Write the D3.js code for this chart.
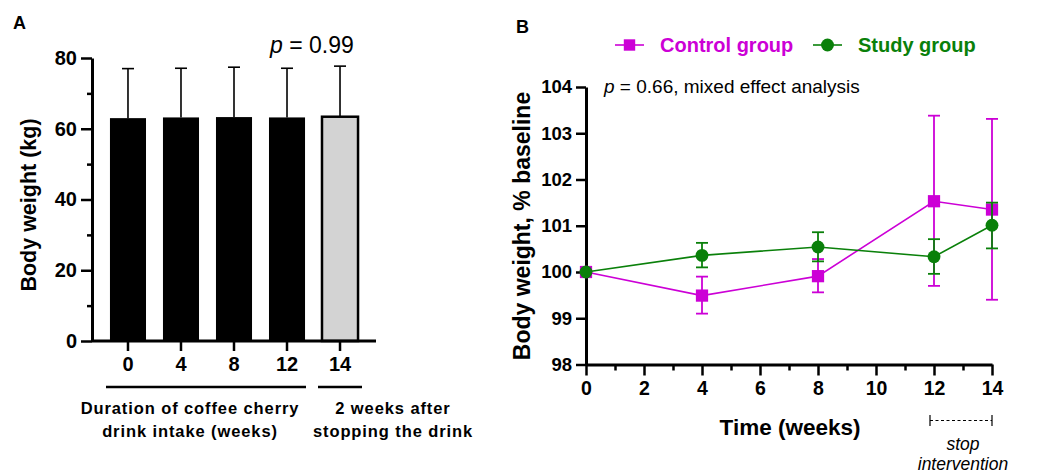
<!DOCTYPE html>
<html>
<head>
<meta charset="utf-8">
<script src="https://cdn.jsdelivr.net/npm/d3@7"></script>
<style>
  body { margin: 0; background: #fff; }
  svg, svg text { font-family: Arial, "Liberation Sans", sans-serif; }
  .tick text { font-weight: bold; }
</style>
</head>
<body>
<svg width="1037" height="475"></svg>
<script>
// panel A data
var weeksA = ["0", "4", "8", "12", "14"];
var meanA  = [63.0, 63.2, 63.3, 63.2, 63.4];
var upperA = [77.0, 77.1, 77.4, 77.1, 77.7];

// panel B data
var weeksB    = [0, 4, 8, 12, 14];
var ctrlMean  = [100, 99.49, 99.91, 101.53, 101.35];
var ctrlLow   = [100, 99.1, 99.56, 99.7, 99.4];
var ctrlHigh  = [100, 99.9, 100.28, 103.38, 103.31];
var studyMean = [100, 100.36, 100.54, 100.33, 101.01];
var studyLow  = [100, 100.1, 100.23, 99.96, 100.51];
var studyHigh = [100, 100.63, 100.86, 100.71, 101.5];

var MAG = "#cc00d6", GRN = "#0a800a";

var svg = d3.select("svg");

// ---------- Panel A ----------
var gA = svg.append("g");

var xA = d3.scaleBand().domain(weeksA).range([93, 375]).padding(0.32);
var yA = d3.scaleLinear().domain([0, 80]).range([341, 58]);

gA.append("text").attr("x", 13).attr("y", 29)
  .attr("font-size", 18).attr("font-weight", "bold").text("A");

// y axis: major ticks every 20, minor every 10
gA.append("g").attr("transform", "translate(92,0)")
  .call(d3.axisLeft(yA).tickValues(d3.range(10, 80, 20)).tickSize(5).tickFormat(""))
  .call(function (g) { g.select(".domain").remove(); })
  .selectAll("line").attr("stroke-width", 2.5);
gA.append("g").attr("transform", "translate(92,0)")
  .call(d3.axisLeft(yA).tickValues(d3.range(0, 81, 20)).tickSize(11).tickSizeOuter(0).tickPadding(4))
  .call(function (g) {
    g.select(".domain").attr("stroke-width", 3);
    g.selectAll("line").attr("stroke-width", 2.5);
    g.selectAll("text").attr("font-size", 20).attr("fill", "#000");
  });

gA.append("text")
  .attr("transform", "translate(36,205) rotate(-90)")
  .attr("text-anchor", "middle")
  .attr("font-size", 21.5).attr("font-weight", "bold")
  .text("Body weight (kg)");

// bars
gA.selectAll(".err").data(weeksA).enter().append("g").each(function (d, i) {
  var cx = xA(d) + xA.bandwidth() / 2;
  var g = d3.select(this);
  g.append("line").attr("x1", cx).attr("x2", cx)
    .attr("y1", yA(meanA[i])).attr("y2", yA(upperA[i]))
    .attr("stroke", "#000").attr("stroke-width", 1.6);
  g.append("line").attr("x1", cx - 6).attr("x2", cx + 6)
    .attr("y1", yA(upperA[i])).attr("y2", yA(upperA[i]))
    .attr("stroke", "#000").attr("stroke-width", 1.6);
});
gA.selectAll(".bar").data(weeksA).enter().append("rect")
  .attr("x", function (d) { return xA(d); })
  .attr("y", function (d, i) { return yA(meanA[i]); })
  .attr("width", xA.bandwidth())
  .attr("height", function (d, i) { return yA(0) - yA(meanA[i]); })
  .attr("fill", function (d, i) { return i === 4 ? "#d3d3d3" : "#000"; })
  .attr("stroke", "#000")
  .attr("stroke-width", function (d, i) { return i === 4 ? 2.5 : 0; });

// x axis
gA.append("g").attr("transform", "translate(0,341)")
  .call(d3.axisBottom(xA).tickSize(10).tickSizeOuter(0).tickPadding(6))
  .call(function (g) {
    g.select(".domain").attr("d", "M92,0H376").attr("stroke-width", 3);
    g.selectAll("line").attr("stroke-width", 2.5);
    g.selectAll("text").attr("font-size", 20).attr("fill", "#000");
  });

// group brackets
gA.append("line").attr("x1", 106).attr("x2", 306).attr("y1", 387).attr("y2", 387)
  .attr("stroke", "#000").attr("stroke-width", 2.5);
gA.append("line").attr("x1", 318).attr("x2", 362).attr("y1", 387).attr("y2", 387)
  .attr("stroke", "#000").attr("stroke-width", 2.5);
[["Duration of coffee cherry", 190, 414], ["drink intake (weeks)", 190, 437],
 ["2 weeks after", 393, 414], ["stopping the drink", 393, 437]].forEach(function (t) {
  gA.append("text").attr("x", t[1]).attr("y", t[2]).attr("text-anchor", "middle")
    .attr("font-size", 16.5).attr("letter-spacing", 0.9).attr("font-weight", "bold").text(t[0]);
});

var pA = gA.append("text").attr("x", 270).attr("y", 53).attr("font-size", 23);
pA.append("tspan").attr("font-style", "italic").text("p");
pA.append("tspan").text(" = 0.99");

// ---------- Panel B ----------
var gB = svg.append("g");
var xB = d3.scaleLinear().domain([0, 14]).range([586, 992]);
var yB = d3.scaleLinear().domain([98, 104]).range([364.5, 87]);

gB.append("text").attr("x", 516).attr("y", 33)
  .attr("font-size", 18).attr("font-weight", "bold").text("B");

gB.append("g").attr("transform", "translate(586,0)")
  .call(d3.axisLeft(yB).tickValues(d3.range(98, 105)).tickFormat(d3.format("d"))
    .tickSize(10).tickSizeOuter(0).tickPadding(4))
  .call(function (g) {
    g.select(".domain").attr("stroke-width", 3);
    g.selectAll("line").attr("stroke-width", 2.5);
    g.selectAll("text").attr("font-size", 18.5).attr("fill", "#000");
  });

gB.append("g").attr("transform", "translate(0,364.5)")
  .call(d3.axisBottom(xB).tickValues(d3.range(1, 14, 2)).tickSize(6).tickFormat(""))
  .call(function (g) { g.select(".domain").remove(); })
  .selectAll("line").attr("stroke-width", 2.5);
gB.append("g").attr("transform", "translate(0,364.5)")
  .call(d3.axisBottom(xB).tickValues(d3.range(0, 15, 2)).tickSize(11).tickSizeOuter(0).tickPadding(6))
  .call(function (g) {
    g.select(".domain").attr("stroke-width", 3);
    g.selectAll("line").attr("stroke-width", 2.5);
    g.selectAll("text").attr("font-size", 19.5).attr("fill", "#000");
  });

gB.append("text")
  .attr("transform", "translate(530,226) rotate(-90)")
  .attr("text-anchor", "middle")
  .attr("font-size", 23).attr("font-weight", "bold")
  .text("Body weight, % baseline");

gB.append("text").attr("x", 790).attr("y", 435).attr("text-anchor", "middle")
  .attr("font-size", 22.5).attr("font-weight", "bold").text("Time (weeks)");

var pB = gB.append("text").attr("x", 604).attr("y", 93).attr("font-size", 19);
pB.append("tspan").attr("font-style", "italic").text("p");
pB.append("tspan").text(" = 0.66, mixed effect analysis");

// stop intervention bracket
gB.append("line").attr("x1", xB(12) - 4).attr("x2", xB(14)).attr("y1", 420.5).attr("y2", 420.5)
  .attr("stroke", "#000").attr("stroke-width", 1.2).attr("stroke-dasharray", "3,2.5");
[xB(12) - 4, xB(14)].forEach(function (x) {
  gB.append("line").attr("x1", x).attr("x2", x).attr("y1", 415).attr("y2", 426)
    .attr("stroke", "#000").attr("stroke-width", 1.2);
});
gB.append("text").attr("x", 963).attr("y", 450).attr("text-anchor", "middle")
  .attr("font-size", 17.5).attr("font-style", "italic").text("stop");
gB.append("text").attr("x", 963).attr("y", 470).attr("text-anchor", "middle")
  .attr("font-size", 17.5).attr("font-style", "italic").text("intervention");

function drawSeries(mean, low, high, color, shape) {
  var g = gB.append("g");
  var line = d3.line().x(function (d, i) { return xB(weeksB[i]); }).y(function (d) { return yB(d); });
  weeksB.forEach(function (w, i) {
    if (high[i] === low[i]) return;
    var cx = xB(w);
    g.append("line").attr("x1", cx).attr("x2", cx).attr("y1", yB(low[i])).attr("y2", yB(high[i]))
      .attr("stroke", color).attr("stroke-width", 1.8);
    [low[i], high[i]].forEach(function (v) {
      g.append("line").attr("x1", cx - 6).attr("x2", cx + 6).attr("y1", yB(v)).attr("y2", yB(v))
        .attr("stroke", color).attr("stroke-width", 1.8);
    });
  });
  g.append("path").datum(mean).attr("d", line)
    .attr("fill", "none").attr("stroke", color).attr("stroke-width", 1.6);
  g.selectAll(".m").data(mean).enter().append("path")
    .attr("transform", function (d, i) { return "translate(" + xB(weeksB[i]) + "," + yB(d) + ")"; })
    .attr("d", d3.symbol().type(shape).size(shape === d3.symbolSquare ? 150 : 130))
    .attr("fill", color);
}
drawSeries(ctrlMean, ctrlLow, ctrlHigh, MAG, d3.symbolSquare);
drawSeries(studyMean, studyLow, studyHigh, GRN, d3.symbolCircle);

// legend
var legend = [["Control group", MAG, d3.symbolSquare, 615, 660], ["Study group", GRN, d3.symbolCircle, 813, 858]];
legend.forEach(function (l) {
  gB.append("line").attr("x1", l[3]).attr("x2", l[3] + 29).attr("y1", 45).attr("y2", 45)
    .attr("stroke", l[1]).attr("stroke-width", 1.6);
  gB.append("path").attr("transform", "translate(" + (l[3] + 14.5) + ",45)")
    .attr("d", d3.symbol().type(l[2]).size(130)).attr("fill", l[1]);
  gB.append("text").attr("x", l[4]).attr("y", 52).attr("font-size", 20).attr("font-weight", "bold")
    .attr("fill", l[1]).text(l[0]);
});
</script>
</body>
</html>
